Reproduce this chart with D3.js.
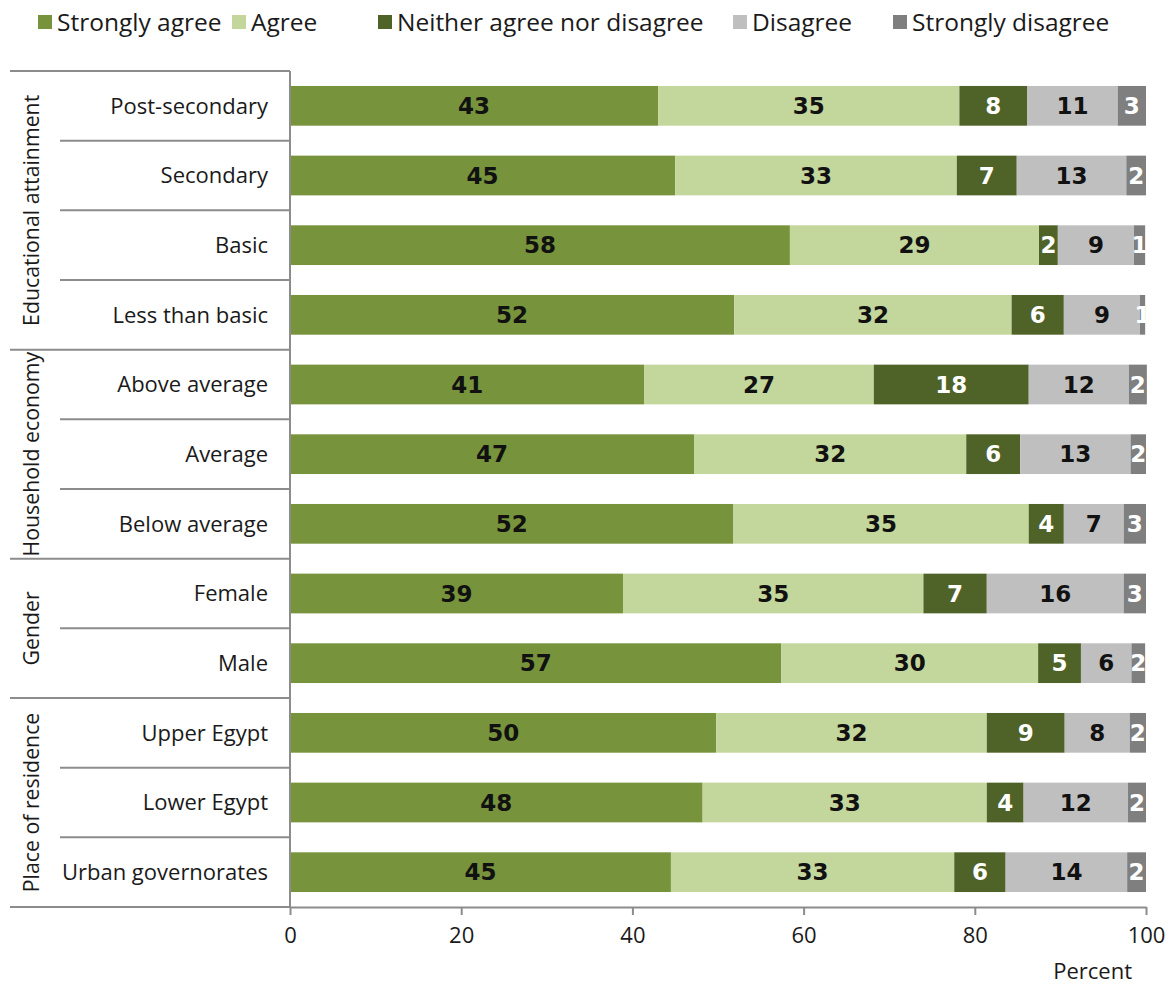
<!DOCTYPE html>
<html>
<head>
<meta charset="utf-8">
<script src="https://cdn.jsdelivr.net/npm/d3@7"></script>
<style>
  html, body { margin: 0; padding: 0; background: #fff; }
  svg { display: block; }
</style>
</head>
<body>
<svg id="chart" width="1172" height="990"></svg>
<script>
// ---- Data ----
const categories = [
  "Post-secondary", "Secondary", "Basic", "Less than basic",
  "Above average", "Average", "Below average",
  "Female", "Male",
  "Upper Egypt", "Lower Egypt", "Urban governorates"
];
const groups = ["Educational attainment", "Educational attainment", "Educational attainment", "Educational attainment",
  "Household economy", "Household economy", "Household economy",
  "Gender", "Gender",
  "Place of residence", "Place of residence", "Place of residence"];
const seriesNames = ["Strongly agree", "Agree", "Neither agree nor disagree", "Disagree", "Strongly disagree"];
const stronglyAgree = [43.0, 45.0, 58.4, 51.9, 41.4, 47.2, 51.8, 38.9, 57.4, 49.8, 48.2, 44.5];
const agree         = [35.2, 32.9, 29.1, 32.4, 26.8, 31.8, 34.5, 35.1, 30.0, 31.6, 33.2, 33.1];
const neither       = [7.9,  7.0,  2.2,  6.1,  18.1, 6.3,  4.1,  7.4,  5.0,  9.1,  4.3,  6.0];
const disagree      = [10.6, 12.8, 8.9,  8.9,  11.7, 12.9, 7.0,  16.0, 5.9,  7.6,  12.2, 14.2];
const stronglyDis   = [3.3,  2.3,  1.3,  0.6,  2.1,  1.8,  2.6,  2.6,  1.6,  1.9,  2.1,  2.2];
const xTicks = [0, 20, 40, 60, 80, 100];

const colors = ["#77933c", "#c3d69b", "#4f6228", "#bfbfbf", "#7f7f7f"];
const labelColors = ["#111", "#111", "#fff", "#111", "#fff"];

// ---- Build table ----
const seriesArrays = [stronglyAgree, agree, neither, disagree, stronglyDis];
const table = categories.map((c, i) => {
  const row = { category: c, group: groups[i] };
  seriesNames.forEach((s, k) => row[s] = seriesArrays[k][i]);
  return row;
});

// ---- Layout ----
const svg = d3.select("#chart");
const pLeft = 290, pRight = 1146, pTop = 71, pBottom = 907;
const x = d3.scaleLinear().domain([0, 100]).range([pLeft, pRight]);
const y = d3.scaleBand().domain(categories).range([pTop, pBottom]).paddingInner(0.43).paddingOuter(0.215);
const rowY = d3.scaleBand().domain(categories).range([pTop, pBottom]);

const font = "'Open Sans', 'DejaVu Sans', sans-serif";
const lineColor = "#8c8c8c";

// ---- Legend ----
const legendX = [38, 232, 378, 733, 893];
const legend = svg.append("g");
seriesNames.forEach((s, k) => {
  legend.append("rect").attr("x", legendX[k]).attr("y", 15).attr("width", 14).attr("height", 14).attr("fill", colors[k]);
  legend.append("text").attr("x", legendX[k] + 19).attr("y", 22).attr("dy", "0.35em")
    .attr("font-family", font).attr("font-size", 24.5).attr("fill", "#1a1a1a").text(s);
});

// ---- Stacked bars ----
const stack = d3.stack().keys(seriesNames);
const stacked = stack(table);

svg.append("defs").append("clipPath").attr("id", "plotclip")
  .append("rect").attr("x", pLeft).attr("y", pTop).attr("width", pRight - pLeft).attr("height", pBottom - pTop);

const layers = svg.append("g").selectAll("g").data(stacked).join("g")
  .attr("fill", (d, k) => colors[k]);
layers.selectAll("rect").data(d => d).join("rect")
  .attr("x", d => x(d[0]))
  .attr("y", d => y(d.data.category))
  .attr("width", d => x(d[1]) - x(d[0]))
  .attr("height", y.bandwidth());

const labels = svg.append("g").attr("clip-path", "url(#plotclip)");
stacked.forEach((layer, k) => {
  labels.append("g").selectAll("text").data(layer).join("text")
    .attr("x", d => (x(d[0]) + x(d[1])) / 2)
    .attr("y", d => y(d.data.category) + y.bandwidth() / 2)
    .attr("dy", "0.36em")
    .attr("text-anchor", "middle")
    .attr("font-family", "'DejaVu Sans', Verdana, sans-serif")
    .attr("font-weight", "bold")
    .attr("font-size", 23)
    .attr("fill", labelColors[k])
    .text(d => Math.round(d[1] - d[0]));
});

// ---- Category labels & separators ----
const catG = svg.append("g");
catG.selectAll("text").data(categories).join("text")
  .attr("x", 268)
  .attr("y", d => rowY(d) + rowY.bandwidth() / 2)
  .attr("dy", "0.35em")
  .attr("text-anchor", "end")
  .attr("font-family", font).attr("font-size", 22).attr("fill", "#1a1a1a")
  .text(d => d);

// separators
const lines = svg.append("g").attr("stroke", lineColor).attr("stroke-width", 2);
lines.append("line").attr("x1", 10).attr("x2", pLeft).attr("y1", pTop).attr("y2", pTop);
categories.forEach((c, i) => {
  if (i === categories.length - 1) return;
  const yb = rowY(c) + rowY.bandwidth();
  const isGroupEnd = groups[i + 1] !== groups[i];
  lines.append("line")
    .attr("x1", isGroupEnd ? 10 : 60).attr("x2", pLeft)
    .attr("y1", yb).attr("y2", yb);
});

// group labels (rotated)
const groupNames = Array.from(new Set(groups));
groupNames.forEach(g => {
  const idx = categories.filter((c, i) => groups[i] === g);
  const y0 = rowY(idx[0]);
  const y1 = rowY(idx[idx.length - 1]) + rowY.bandwidth();
  svg.append("text")
    .attr("transform", `translate(32,${(y0 + y1) / 2}) rotate(-90)`)
    .attr("dy", "0.35em")
    .attr("text-anchor", "middle")
    .attr("font-family", font).attr("font-size", 21.3).attr("fill", "#1a1a1a")
    .text(g);
});

// ---- X axis ----
const xAxis = d3.axisBottom(x).tickValues(xTicks).tickSize(8).tickSizeOuter(0).tickPadding(12);
const ax = svg.append("g").attr("transform", `translate(0,${pBottom})`).call(xAxis);
ax.select(".domain").attr("stroke", lineColor).attr("stroke-width", 2);
ax.selectAll(".tick line").attr("stroke", lineColor).attr("stroke-width", 2);
ax.selectAll(".tick text").attr("font-family", font).attr("font-size", 22).attr("fill", "#1a1a1a");
svg.append("line").attr("x1", 10).attr("x2", pLeft).attr("y1", pBottom).attr("y2", pBottom)
  .attr("stroke", lineColor).attr("stroke-width", 2);
svg.append("line").attr("x1", pLeft).attr("x2", pLeft).attr("y1", pTop).attr("y2", pBottom)
  .attr("stroke", lineColor).attr("stroke-width", 2);

svg.append("text").attr("x", 1132).attr("y", 971).attr("dy", "0.35em").attr("text-anchor", "end")
  .attr("font-family", font).attr("font-size", 22).attr("fill", "#1a1a1a").text("Percent");
</script>
</body>
</html>
